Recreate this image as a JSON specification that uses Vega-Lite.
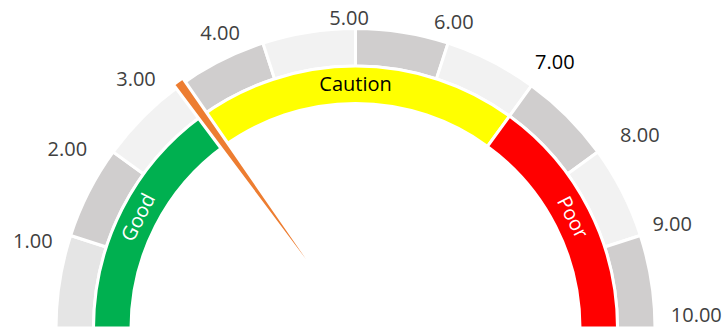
{
  "$schema": "https://vega.github.io/schema/vega-lite/v6.json",
  "width": 726,
  "height": 328,
  "autosize": "none",
  "padding": 0,
  "background": "white",
  "config": {"view": {"stroke": null}, "text": {"font": "Open Sans"}},
  "datasets": {
    "ring": [
      {"seg": "s01", "start": 0, "end": 1},
      {"seg": "s02", "start": 1, "end": 2},
      {"seg": "s03", "start": 2, "end": 3},
      {"seg": "s04", "start": 3, "end": 4},
      {"seg": "s05", "start": 4, "end": 5},
      {"seg": "s06", "start": 5, "end": 6},
      {"seg": "s07", "start": 6, "end": 7},
      {"seg": "s08", "start": 7, "end": 8},
      {"seg": "s09", "start": 8, "end": 9},
      {"seg": "s10", "start": 9, "end": 10}
    ],
    "bands": [
      {"band": "Good", "start": 0, "end": 3, "mid": 1.5},
      {"band": "Caution", "start": 3, "end": 7, "mid": 5},
      {"band": "Poor", "start": 7, "end": 10, "mid": 8.5}
    ],
    "needle": [{"start": 2.955, "end": 3.075}],
    "ticks": [
      {"v": 1}, {"v": 2}, {"v": 3}, {"v": 4}, {"v": 5},
      {"v": 6}, {"v": 7}, {"v": 8}, {"v": 9}, {"v": 10}
    ]
  },
  "encoding": {
    "x": {"datum": 0, "type": "quantitative", "scale": {"domain": [-1.193, 1.2433], "nice": false, "zero": false}, "axis": null},
    "y": {"datum": 0, "type": "quantitative", "scale": {"domain": [0, 1.1007], "nice": false, "zero": false}, "axis": null}
  },
  "layer": [
    {
      "data": {"name": "ring"},
      "mark": {"type": "arc", "innerRadius": 262, "outerRadius": 299.5, "stroke": "white", "strokeWidth": 3},
      "encoding": {
        "theta": {"field": "start", "type": "quantitative", "scale": {"domain": [0, 10], "range": [-1.5708, 1.5708]}},
        "theta2": {"field": "end"},
        "color": {
          "field": "seg", "type": "nominal", "legend": null,
          "scale": {
            "domain": ["s01", "s02", "s03", "s04", "s05", "s06", "s07", "s08", "s09", "s10"],
            "range": ["#E5E5E5", "#D0CECE", "#F2F2F2", "#D0CECE", "#F2F2F2", "#D0CECE", "#F2F2F2", "#D0CECE", "#F2F2F2", "#D0CECE"]
          }
        }
      }
    },
    {
      "data": {"name": "bands"},
      "mark": {"type": "arc", "innerRadius": 224.5, "outerRadius": 262, "stroke": "white", "strokeWidth": 3},
      "encoding": {
        "theta": {"field": "start", "type": "quantitative", "scale": {"domain": [0, 10], "range": [-1.5708, 1.5708]}},
        "theta2": {"field": "end"},
        "color": {
          "field": "band", "type": "nominal", "legend": null,
          "scale": {"domain": ["Good", "Caution", "Poor"], "range": ["#00B050", "#FFFF00", "#FF0000"]}
        }
      }
    },
    {
      "data": {"name": "needle"},
      "mark": {"type": "arc", "innerRadius": 0, "outerRadius": 304, "fill": "#ED7D31", "stroke": "white", "strokeWidth": 3.2},
      "encoding": {
        "theta": {"field": "start", "type": "quantitative", "scale": {"domain": [0, 10], "range": [-1.5708, 1.5708]}},
        "theta2": {"field": "end"}
      }
    },
    {
      "data": {"name": "bands"},
      "mark": {"type": "text", "radius": 243, "fontSize": 20, "font": "Open Sans", "align": "center", "baseline": "middle"},
      "encoding": {
        "theta": {"field": "mid", "type": "quantitative", "scale": {"domain": [0, 10], "range": [-1.5708, 1.5708]}},
        "angle": {"field": "mid", "type": "quantitative", "scale": {"domain": [0, 10], "range": [-90, 90]}},
        "text": {"field": "band"},
        "color": {"condition": {"test": "datum.band === 'Caution'", "value": "#000000"}, "value": "#FFFFFF"}
      }
    },
    {
      "data": {"name": "ticks"},
      "mark": {"type": "text", "fontSize": 20, "font": "Open Sans", "align": "center", "baseline": "middle"},
      "encoding": {
        "theta": {"field": "v", "type": "quantitative", "scale": {"domain": [1, 4, 5, 8, 10], "range": [-1.309, -0.4311, -0.0209, 0.9774, 1.5359], "nice": false, "zero": false}},
        "radius": {"field": "v", "type": "quantitative", "scale": {"type": "linear", "domain": [1, 2, 4, 5, 8, 9, 10], "range": [334, 339, 324, 309, 343, 333, 341], "nice": false, "zero": false}},
        "text": {"field": "v", "type": "quantitative", "format": ".2f"},
        "color": {"condition": {"test": "datum.v === 7", "value": "#000000"}, "value": "#404040"}
      }
    }
  ],
  "resolve": {"scale": {"theta": "independent", "color": "independent", "radius": "independent", "angle": "independent"}}
}
